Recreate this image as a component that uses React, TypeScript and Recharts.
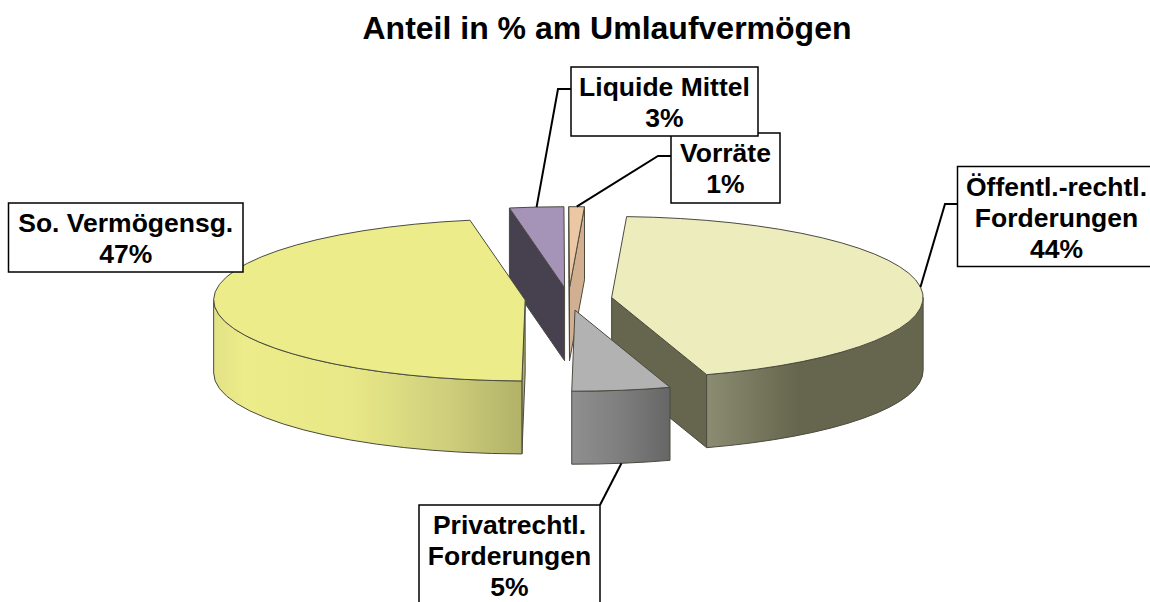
import React from "react";
import { PieChart, Pie } from "recharts";

const TITLE = "Anteil in % am Umlaufvermögen";

// The labels show them rounded.
const sliceNames = ["Liquide Mittel", "Vorräte", "Öffentl.-rechtl. Forderungen", "Privatrechtl. Forderungen", "So. Vermögensg."];
const sliceValues = [2.8, 0.8, 44.3, 5.1, 47.0];
const sliceLabels = [
  ["Liquide Mittel", "3%"],
  ["Vorräte", "1%"],
  ["Öffentl.-rechtl.", "Forderungen", "44%"],
  ["Privatrechtl.", "Forderungen", "5%"],
  ["So. Vermögensg.", "47%"],
];

const table = sliceNames.map((name, i) => ({ name, value: sliceValues[i], lines: sliceLabels[i], order: i }));
// Same slices, same angles, other paint order: the first label ends up on top of the second.
const labelTable = [...table.slice(1), table[0]];

const WIDTH = 1150;
const HEIGHT = 602;
const CX = 568.5;
const CY = 299;
const RX = 311.5;
const RY = 81;
const K = RY / RX;
const EXPLODE = 43.5;
const DEPTH = 73;
const START_CW = 349.8;
const START = 90 - START_CW;
const TOTAL = sliceValues.reduce((a, b) => a + b, 0);
const LABEL_START = START - (360 * sliceValues[0]) / TOTAL;

const EDGE = "#4a4a40";

const topColors = ["#A694B8", "#EBC7A4", "#ECECBC", "#B2B2B2", "#ECEC8A"];
const cutColors = ["#46404F", "#D2AF91", "#66664E", "#7A7A7A", "#B0B068"];
const sideStops: [number, string][][] = [
  [[0, "#46404F"], [1, "#46404F"]],
  [[0, "#D2AF91"], [1, "#D2AF91"]],
  [[0, "#8C8C72"], [0.42, "#66664E"], [1, "#66664E"]],
  [[0, "#8F8F8F"], [0.5, "#7E7E7E"], [1, "#666666"]],
  [[0, "#E2E286"], [0.1, "#ECEC8A"], [0.45, "#E8E888"], [0.75, "#CFCF7C"], [1, "#B2B268"]],
];

type Box = { x: number; y: number; w: number; h: number; bend: [number, number][]; leader: boolean };
const boxes: Box[] = [
  { x: 571, y: 67, w: 187, h: 69, bend: [[558, 89], [571, 89]], leader: true },
  { x: 671, y: 133, w: 109, h: 70, bend: [[658, 156], [671, 156]], leader: true },
  { x: 957.5, y: 166.5, w: 198, h: 100, bend: [[945, 204], [957.5, 204]], leader: true },
  { x: 419, y: 505, w: 181, h: 110, bend: [[600, 505]], leader: true },
  { x: 8.5, y: 203, w: 234.5, h: 69, bend: [], leader: false },
];

const rad = (d: number) => (d * Math.PI) / 180;

function geometry(p: any) {
  const a0 = (((90 - p.startAngle) % 360) + 360) % 360;
  const a1 = a0 + Math.abs(p.startAngle - p.endAngle);
  const mid = (a0 + a1) / 2;
  const ax = p.cx + EXPLODE * Math.sin(rad(mid));
  const ay = p.cy - EXPLODE * K * Math.cos(rad(mid));
  const r = p.outerRadius;
  const at = (a: number): [number, number] => [ax + r * Math.sin(rad(a)), ay - r * K * Math.cos(rad(a))];
  return { a0, a1, mid, ax, ay, r, ry: r * K, at };
}

function Slice3D(props: any) {
  const i: number = props.payload?.order ?? props.order ?? 0;
  const { a0, a1, ax, ay, r, ry, at } = geometry(props);
  const p0 = at(a0);
  const p1 = at(a1);
  const face = (q: [number, number]) =>
    `M${ax},${ay} L${q[0]},${q[1]} L${q[0]},${q[1] + DEPTH} L${ax},${ay + DEPTH} Z`;
  const s = Math.max(a0, 90);
  const e = Math.min(a1, 270);
  const hasOuter = e > s;
  const ps = at(s);
  const pe = at(e);
  const gid = `side-gradient-${i}`;
  return (
    <g>
      <defs>
        <linearGradient id={gid} x1="0" y1="0" x2="1" y2="0">
          {sideStops[i].map(([o, c]) => (
            <stop key={o} offset={o} stopColor={c} />
          ))}
        </linearGradient>
      </defs>
      {Math.sin(rad(a0)) < 0 && <path d={face(p0)} fill={cutColors[i]} stroke={EDGE} strokeWidth={1} />}
      {Math.sin(rad(a1)) > 0 && <path d={face(p1)} fill={cutColors[i]} stroke={EDGE} strokeWidth={1} />}
      {hasOuter && (
        <path
          d={`M${ps[0]},${ps[1]} A${r},${ry} 0 0 1 ${pe[0]},${pe[1]} L${pe[0]},${pe[1] + DEPTH} A${r},${ry} 0 0 0 ${ps[0]},${ps[1] + DEPTH} Z`}
          fill={`url(#${gid})`}
          stroke={EDGE}
          strokeWidth={1}
        />
      )}
      <path
        d={`M${ax},${ay} L${p0[0]},${p0[1]} A${r},${ry} 0 ${a1 - a0 > 180 ? 1 : 0} 1 ${p1[0]},${p1[1]} Z`}
        fill={topColors[i]}
        stroke={EDGE}
        strokeWidth={1}
      />
    </g>
  );
}

function SliceLabel(props: any) {
  const i: number = props.payload?.order ?? props.order ?? 0;
  const lines: string[] = props.payload?.lines ?? props.lines ?? [];
  const b = boxes[i];
  const { mid, at } = geometry(props);
  const rim = at(mid);
  const front = Math.cos(rad(mid)) < 0;
  const anchorY = rim[1] + (front ? DEPTH : 0);
  const pts = [[rim[0], anchorY], ...b.bend].map((q) => q.join(",")).join(" ");
  return (
    <g>
      {b.leader && <polyline points={pts} fill="none" stroke="#000" strokeWidth={2} />}
      <rect x={b.x} y={b.y} width={b.w} height={b.h} fill="#fff" stroke="#000" strokeWidth={1.5} />
      {lines.map((t, n) => (
        <text
          key={t}
          x={b.x + b.w / 2}
          y={b.y + 29 + n * 31}
          textAnchor="middle"
          fontFamily="'Liberation Sans', Arial, sans-serif"
          fontWeight="bold"
          fontSize={26.5}
          fill="#000"
        >
          {t}
        </text>
      ))}
    </g>
  );
}

export default function App() {
  return (
    <div style={{ position: "absolute", left: 0, top: 0, width: WIDTH, height: HEIGHT, background: "#fff", overflow: "hidden" }}>
      <PieChart width={WIDTH} height={HEIGHT} margin={{ top: 0, right: 0, bottom: 0, left: 0 }}>
        <Pie
          data={table}
          dataKey="value"
          nameKey="name"
          cx={CX}
          cy={CY}
          innerRadius={0}
          outerRadius={RX}
          startAngle={START}
          endAngle={START - 360}
          paddingAngle={0}
          stroke="none"
          shape={Slice3D}
          label={false}
          labelLine={false}
          isAnimationActive={false}
        />
        <Pie
          data={labelTable}
          dataKey="value"
          nameKey="name"
          cx={CX}
          cy={CY}
          innerRadius={0}
          outerRadius={RX}
          startAngle={LABEL_START}
          endAngle={LABEL_START - 360}
          paddingAngle={0}
          fill="none"
          stroke="none"
          shape={() => <g />}
          label={SliceLabel}
          labelLine={false}
          isAnimationActive={false}
        />
        <text
          x={607}
          y={39}
          textAnchor="middle"
          fontFamily="'Liberation Sans', Arial, sans-serif"
          fontWeight="bold"
          fontSize={32}
          fill="#000"
        >
          {TITLE}
        </text>
      </PieChart>
    </div>
  );
}
